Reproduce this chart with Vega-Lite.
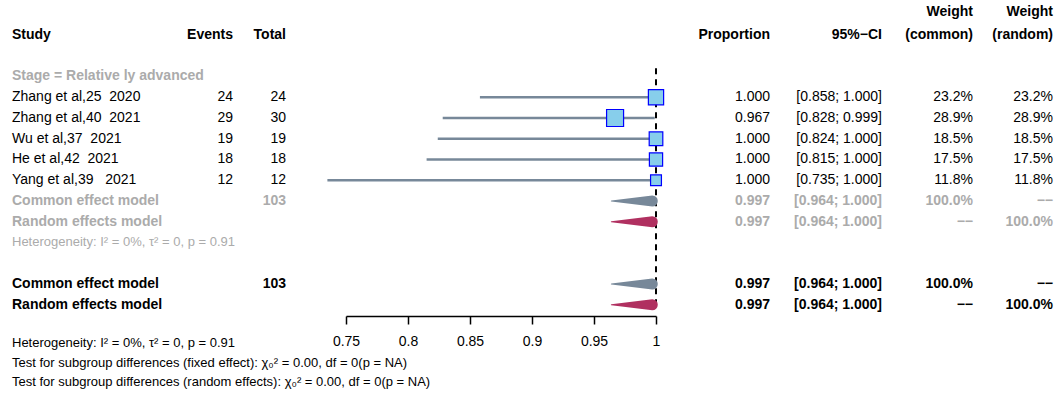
{
  "$schema": "https://vega.github.io/schema/vega-lite/v6.json",
  "width": 1060,
  "height": 398,
  "padding": 0,
  "autosize": {"type": "none"},
  "background": "white",
  "title": {"text": "B", "anchor": "start", "frame": "group", "orient": "top", "offset": 0, "dx": 11, "dy": 3, "baseline": "alphabetic", "fontSize": 28, "fontWeight": "bold", "color": "black"},
  "config": {"view": {"stroke": null}, "font": "Liberation Sans"},
  "datasets": {
    "cells": [
      {"row": -1.1, "col": 5, "label": "Weight", "part": "head"},
      {"row": -1.1, "col": 6, "label": "Weight", "part": "head"},
      {"row": 0, "col": 0, "label": "Study", "part": "head"},
      {"row": 0, "col": 1, "label": "Events", "part": "head"},
      {"row": 0, "col": 2, "label": "Total", "part": "head"},
      {"row": 0, "col": 3, "label": "Proportion", "part": "head"},
      {"row": 0, "col": 4, "label": "95%−CI", "part": "head"},
      {"row": 0, "col": 5, "label": "(common)", "part": "head"},
      {"row": 0, "col": 6, "label": "(random)", "part": "head"},
      {"row": 2, "col": 0, "label": "Stage = Relative ly advanced", "part": "subgroup"},
      {"row": 3, "col": 0, "label": "Zhang et al,25\u00a0 2020", "part": "study"},
      {"row": 3, "col": 1, "label": "24", "part": "study"},
      {"row": 3, "col": 2, "label": "24", "part": "study"},
      {"row": 3, "col": 3, "label": "1.000", "part": "study"},
      {"row": 3, "col": 4, "label": "[0.858; 1.000]", "part": "study"},
      {"row": 3, "col": 5, "label": "23.2%", "part": "study"},
      {"row": 3, "col": 6, "label": "23.2%", "part": "study"},
      {"row": 4, "col": 0, "label": "Zhang et al,40\u00a0 2021", "part": "study"},
      {"row": 4, "col": 1, "label": "29", "part": "study"},
      {"row": 4, "col": 2, "label": "30", "part": "study"},
      {"row": 4, "col": 3, "label": "0.967", "part": "study"},
      {"row": 4, "col": 4, "label": "[0.828; 0.999]", "part": "study"},
      {"row": 4, "col": 5, "label": "28.9%", "part": "study"},
      {"row": 4, "col": 6, "label": "28.9%", "part": "study"},
      {"row": 5, "col": 0, "label": "Wu et al,37\u00a0 2021", "part": "study"},
      {"row": 5, "col": 1, "label": "19", "part": "study"},
      {"row": 5, "col": 2, "label": "19", "part": "study"},
      {"row": 5, "col": 3, "label": "1.000", "part": "study"},
      {"row": 5, "col": 4, "label": "[0.824; 1.000]", "part": "study"},
      {"row": 5, "col": 5, "label": "18.5%", "part": "study"},
      {"row": 5, "col": 6, "label": "18.5%", "part": "study"},
      {"row": 6, "col": 0, "label": "He et al,42\u00a0 2021", "part": "study"},
      {"row": 6, "col": 1, "label": "18", "part": "study"},
      {"row": 6, "col": 2, "label": "18", "part": "study"},
      {"row": 6, "col": 3, "label": "1.000", "part": "study"},
      {"row": 6, "col": 4, "label": "[0.815; 1.000]", "part": "study"},
      {"row": 6, "col": 5, "label": "17.5%", "part": "study"},
      {"row": 6, "col": 6, "label": "17.5%", "part": "study"},
      {"row": 7, "col": 0, "label": "Yang et al,39\u00a0\u00a0 2021", "part": "study"},
      {"row": 7, "col": 1, "label": "12", "part": "study"},
      {"row": 7, "col": 2, "label": "12", "part": "study"},
      {"row": 7, "col": 3, "label": "1.000", "part": "study"},
      {"row": 7, "col": 4, "label": "[0.735; 1.000]", "part": "study"},
      {"row": 7, "col": 5, "label": "11.8%", "part": "study"},
      {"row": 7, "col": 6, "label": "11.8%", "part": "study"},
      {"row": 8, "col": 0, "label": "Common effect model", "part": "subgroup"},
      {"row": 8, "col": 2, "label": "103", "part": "subgroup"},
      {"row": 8, "col": 3, "label": "0.997", "part": "subgroup"},
      {"row": 8, "col": 4, "label": "[0.964; 1.000]", "part": "subgroup"},
      {"row": 8, "col": 5, "label": "100.0%", "part": "subgroup"},
      {"row": 8, "col": 6, "label": "−−", "part": "subgroup"},
      {"row": 9, "col": 0, "label": "Random effects model", "part": "subgroup"},
      {"row": 9, "col": 3, "label": "0.997", "part": "subgroup"},
      {"row": 9, "col": 4, "label": "[0.964; 1.000]", "part": "subgroup"},
      {"row": 9, "col": 5, "label": "−−", "part": "subgroup"},
      {"row": 9, "col": 6, "label": "100.0%", "part": "subgroup"},
      {"row": 10, "col": 0, "label": "Heterogeneity: I² = 0%, τ² = 0, p = 0.91", "part": "subgroupHet"},
      {"row": 12, "col": 0, "label": "Common effect model", "part": "overall"},
      {"row": 12, "col": 2, "label": "103", "part": "overall"},
      {"row": 12, "col": 3, "label": "0.997", "part": "overall"},
      {"row": 12, "col": 4, "label": "[0.964; 1.000]", "part": "overall"},
      {"row": 12, "col": 5, "label": "100.0%", "part": "overall"},
      {"row": 12, "col": 6, "label": "−−", "part": "overall"},
      {"row": 13, "col": 0, "label": "Random effects model", "part": "overall"},
      {"row": 13, "col": 3, "label": "0.997", "part": "overall"},
      {"row": 13, "col": 4, "label": "[0.964; 1.000]", "part": "overall"},
      {"row": 13, "col": 5, "label": "−−", "part": "overall"},
      {"row": 13, "col": 6, "label": "100.0%", "part": "overall"},
      {"row": 14.86, "col": 0, "label": "Heterogeneity: I² = 0%, τ² = 0, p = 0.91", "part": "note"},
      {"row": 15.8, "col": 0, "label": "Test for subgroup differences (fixed effect): χ₀² = 0.00, df = 0(p = NA)", "part": "note"},
      {"row": 16.72, "col": 0, "label": "Test for subgroup differences (random effects): χ₀² = 0.00, df = 0(p = NA)", "part": "note"}
    ],
    "studies": [
      {"row": 3, "prop": 1.0, "lower": 0.858, "upper": 1.0, "weight": 23.2},
      {"row": 4, "prop": 0.967, "lower": 0.828, "upper": 0.999, "weight": 28.9},
      {"row": 5, "prop": 1.0, "lower": 0.824, "upper": 1.0, "weight": 18.5},
      {"row": 6, "prop": 1.0, "lower": 0.815, "upper": 1.0, "weight": 17.5},
      {"row": 7, "prop": 1.0, "lower": 0.735, "upper": 1.0, "weight": 11.8}
    ],
    "summaries": [
      {"row": 8, "model": "common", "lower": 0.964, "estimate": 0.997, "upper": 1.0},
      {"row": 9, "model": "random", "lower": 0.964, "estimate": 0.997, "upper": 1.0},
      {"row": 12, "model": "common", "lower": 0.964, "estimate": 0.997, "upper": 1.0},
      {"row": 13, "model": "random", "lower": 0.964, "estimate": 0.997, "upper": 1.0}
    ],
    "reference": [{"prop": 1, "first": 1.6, "last": 13}]
  },
  "layer": [
    {
      "data": {"name": "cells"},
      "mark": {
        "type": "text",
        "baseline": "middle",
        "align": {"expr": "datum.col == 0 ? 'left' : 'right'"},
        "fontSize": {"expr": "datum.part == 'note' || datum.part == 'subgroupHet' ? 13 : 14"},
        "fontWeight": {"expr": "datum.part == 'head' || datum.part == 'subgroup' || datum.part == 'overall' ? 'bold' : 'normal'"}
      },
      "encoding": {
        "x": {"field": "col", "type": "quantitative", "scale": {"domain": [0, 1, 2, 3, 4, 5, 6], "range": [12, 233, 286, 770, 882, 973, 1053], "nice": false, "zero": false}, "axis": null},
        "y": {"field": "row", "type": "quantitative", "scale": {"domain": [-1.6867, 17.494], "reverse": true, "nice": false, "zero": false}, "axis": null},
        "text": {"field": "label"},
        "color": {"field": "part", "type": "nominal", "scale": {"domain": ["head", "study", "subgroup", "subgroupHet", "overall", "note"], "range": ["#000000", "#000000", "#ABABAB", "#ABABAB", "#000000", "#000000"]}, "legend": null}
      }
    },
    {
      "layer": [
        {
          "data": {"name": "reference"},
          "mark": {"type": "rule", "color": "black", "strokeWidth": 2, "strokeDash": [6, 5]},
          "encoding": {
            "x": {"field": "prop", "type": "quantitative", "title": null},
            "y": {"field": "first", "type": "quantitative", "axis": null},
            "y2": {"field": "last"}
          }
        },
        {
          "data": {"name": "studies"},
          "mark": {"type": "rule", "color": "#778899", "strokeWidth": 2.5},
          "encoding": {
            "x": {
              "field": "lower", "type": "quantitative", "title": null,
              "scale": {"domain": [0.75, 1], "range": [346, 656], "nice": false, "zero": false},
              "axis": {"orient": "bottom", "offset": -82, "values": [0.75, 0.8, 0.85, 0.9, 0.95, 1], "format": "~g", "title": null, "grid": false, "domainColor": "black", "domainWidth": 1.5, "tickColor": "black", "tickWidth": 1.5, "tickSize": 8, "labelFontSize": 14, "labelColor": "black", "labelPadding": 10, "labelFlush": false, "labelOverlap": false}
            },
            "x2": {"field": "upper"},
            "y": {"field": "row", "type": "quantitative", "axis": null}
          }
        },
        {
          "data": {"name": "studies"},
          "mark": {"type": "point", "shape": "square", "filled": true, "fill": "#87CEEB", "stroke": "#0000FF", "strokeWidth": 1.2, "opacity": 1},
          "encoding": {
            "x": {"field": "prop", "type": "quantitative", "title": null},
            "y": {"field": "row", "type": "quantitative", "axis": null},
            "size": {"field": "weight", "type": "quantitative", "scale": {"domain": [0, 100], "range": [0, 1000]}, "legend": null}
          }
        },
        {
          "data": {"name": "summaries"},
          "transform": [{"fold": ["lower", "estimate", "upper"], "as": ["point", "value"]}],
          "mark": {"type": "trail"},
          "encoding": {
            "x": {"field": "value", "type": "quantitative", "title": null},
            "y": {"field": "row", "type": "quantitative", "axis": null},
            "detail": {"field": "row", "type": "nominal"},
            "color": {"field": "model", "type": "nominal", "scale": {"domain": ["common", "random"], "range": ["#778899", "#B03060"]}, "legend": null},
            "size": {"condition": {"test": "datum.point === 'estimate'", "value": 11}, "value": 0}
          }
        }
      ]
    }
  ],
  "resolve": {"scale": {"x": "independent", "color": "independent"}}
}
